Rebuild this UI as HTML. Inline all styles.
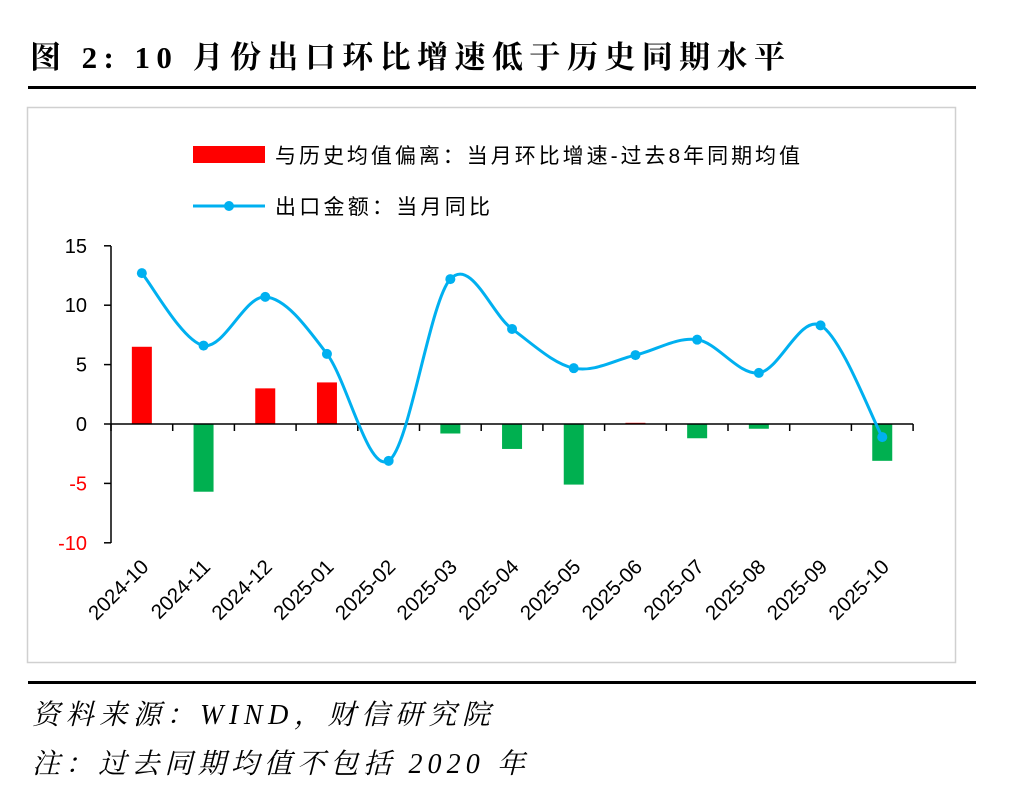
<!DOCTYPE html>
<html><head><meta charset="utf-8"><style>
body{margin:0;background:#fff;width:1016px;height:791px;overflow:hidden;font-family:"Liberation Serif","Noto Serif CJK SC",serif}
</style></head><body>
<svg id="s" width="1016" height="791" xmlns="http://www.w3.org/2000/svg">
<text x="30" y="68" font-size="31" font-weight="bold" textLength="755" font-family="Liberation Serif,Noto Serif CJK SC,serif">图 2:  10 月份出口环比增速低于历史同期水平</text>
<rect x="28" y="86" width="948" height="3" fill="#000"/>
<rect x="27.5" y="107.5" width="928" height="555" fill="none" stroke="#d0d0d0" stroke-width="1.5"/>
<rect x="193" y="146" width="72" height="17" fill="#ff0000"/>
<text x="275" y="163" font-size="21" textLength="525" font-family="Liberation Sans,Noto Sans CJK SC,sans-serif">与历史均值偏离：当月环比增速-过去8年同期均值</text>
<line x1="193" y1="206" x2="265" y2="206" stroke="#00b0f0" stroke-width="3"/>
<circle cx="229" cy="206" r="5" fill="#00b0f0"/>
<text x="275" y="214" font-size="21" textLength="215" font-family="Liberation Sans,Noto Sans CJK SC,sans-serif">出口金额：当月同比</text>
<g id="c"></g>
<rect x="28" y="681" width="948" height="3" fill="#000"/>
<text x="32" y="724" font-size="28" font-style="italic" textLength="458" font-family="Liberation Serif,Noto Serif CJK SC,serif">资料来源：WIND，财信研究院</text>
<text x="32" y="773" font-size="28" font-style="italic" textLength="493" font-family="Liberation Serif,Noto Serif CJK SC,serif">注：过去同期均值不包括 2020 年</text>
</svg>
<script>
var g=document.getElementById('c'),h='';
var y0=424,u=11.88,x0=111,w=61.7;
function Y(v){return y0-v*u}
var cats=['2024-10','2024-11','2024-12','2025-01','2025-02','2025-03','2025-04','2025-05','2025-06','2025-07','2025-08','2025-09','2025-10'];
var bars=[6.5,-5.7,3.0,3.5,0,-0.8,-2.1,-5.1,0.1,-1.2,-0.4,0,-3.1];
var line=[12.7,6.6,10.7,5.9,-3.1,12.2,8.0,4.7,5.8,7.1,4.3,8.3,-1.1];
for(var v=-10;v<=15;v+=5){var y=Y(v);h+='<line x1="104" y1="'+y+'" x2="111" y2="'+y+'" stroke="#000" stroke-width="1.5"/>';
h+='<text x="87" y="'+(y+7)+'" font-size="20" text-anchor="end" fill="'+(v<0?'#ff0000':'#000')+'" font-family="Liberation Sans,sans-serif">'+v+'</text>';}
h+='<line x1="111" y1="246" x2="111" y2="543" stroke="#000" stroke-width="1.5"/>';
var P=[];
for(var i=0;i<13;i++){var cx=x0+w/2+i*w;P.push([cx,Y(line[i])]);
var b=bars[i];if(b!=0){var t=Math.min(Y(b),y0),hh=Math.abs(b*u);h+='<rect x="'+(cx-10)+'" y="'+t+'" width="20" height="'+hh+'" fill="'+(b>0?'#ff0000':'#00b050')+'"/>';}
h+='<line x1="'+(x0+i*w)+'" y1="'+y0+'" x2="'+(x0+i*w)+'" y2="'+(y0+7)+'" stroke="#000" stroke-width="1.5"/>';
h+='<text transform="translate('+(cx+8)+',568) rotate(-45)" font-size="20.5" text-anchor="end" font-family="Liberation Sans,sans-serif">'+cats[i]+'</text>';}
h+='<line x1="'+(x0+13*w)+'" y1="'+y0+'" x2="'+(x0+13*w)+'" y2="'+(y0+7)+'" stroke="#000" stroke-width="1.5"/>';
h+='<line x1="111" y1="'+y0+'" x2="'+(x0+13*w)+'" y2="'+y0+'" stroke="#000" stroke-width="1.5"/>';
var d='M'+P[0][0]+','+P[0][1];
for(var i=0;i<12;i++){var p0=P[Math.max(i-1,0)],p1=P[i],p2=P[i+1],p3=P[Math.min(i+2,12)];
d+=' C'+(p1[0]+(p2[0]-p0[0])/6)+','+(p1[1]+(p2[1]-p0[1])/6)+' '+(p2[0]-(p3[0]-p1[0])/6)+','+(p2[1]-(p3[1]-p1[1])/6)+' '+p2[0]+','+p2[1];}
h+='<path d="'+d+'" fill="none" stroke="#00b0f0" stroke-width="3"/>';
P.forEach(function(p){h+='<circle cx="'+p[0]+'" cy="'+p[1]+'" r="5" fill="#00b0f0"/>';});
g.innerHTML=h;
</script>
</body></html>
